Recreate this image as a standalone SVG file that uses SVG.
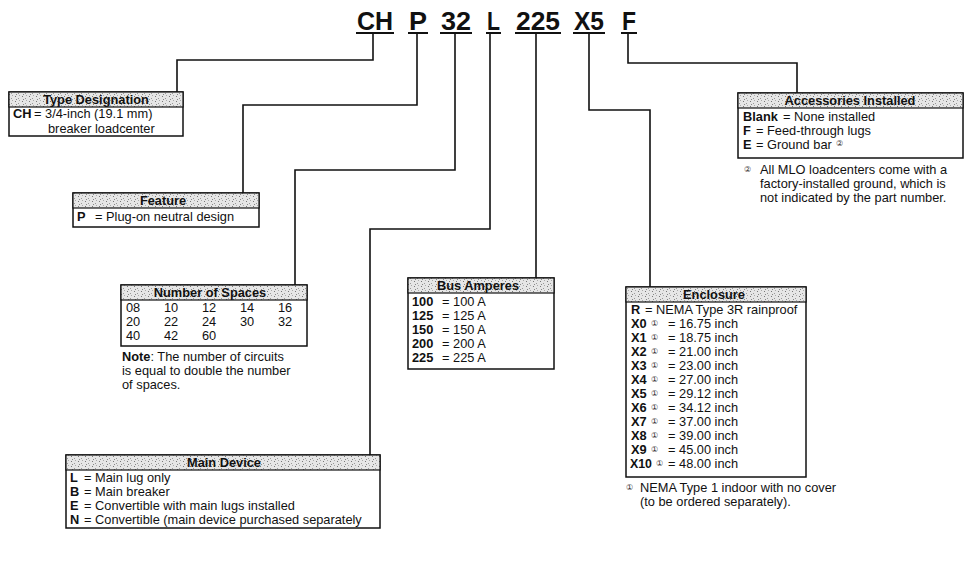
<svg xmlns="http://www.w3.org/2000/svg" width="969" height="564" viewBox="0 0 969 564">
<defs>
<pattern id="stip" width="7" height="5" patternUnits="userSpaceOnUse">
<rect width="7" height="5" fill="#e6e6e6"/>
<rect x="1" y="1" width="1" height="1" fill="#777"/>
<rect x="4" y="3" width="1" height="1" fill="#999"/>
<rect x="5" y="0" width="1" height="1" fill="#aaa"/>
<rect x="2" y="4" width="1" height="1" fill="#888"/>
</pattern>
<style>
.t{font-family:"Liberation Sans","Arial",sans-serif;font-size:12.8px;fill:#111}
.b{font-weight:bold}
.h{font-weight:bold;text-anchor:middle}
.ttl{font-family:"Liberation Sans","Arial",sans-serif;font-weight:bold;font-size:25px;fill:#111}
.box{fill:#fff;stroke:#111;stroke-width:1.5}
.hdr{fill:url(#stip);stroke:#111;stroke-width:1.2}
.ln{fill:none;stroke:#111;stroke-width:1.6}
.ul{stroke:#111;stroke-width:2}
.c{font-family:"DejaVu Sans",sans-serif;font-size:8px;fill:#333}
</style>
</defs>
<rect width="969" height="564" fill="#fff"/>

<g id="title">
<text class="ttl" x="357" y="30" textLength="36" lengthAdjust="spacingAndGlyphs">CH</text>
<text class="ttl" x="409" y="30" textLength="18" lengthAdjust="spacingAndGlyphs">P</text>
<text class="ttl" x="441" y="30" textLength="30" lengthAdjust="spacingAndGlyphs">32</text>
<text class="ttl" x="487" y="30" textLength="13" lengthAdjust="spacingAndGlyphs">L</text>
<text class="ttl" x="516" y="30" textLength="44" lengthAdjust="spacingAndGlyphs">225</text>
<text class="ttl" x="574" y="30" textLength="30" lengthAdjust="spacingAndGlyphs">X5</text>
<text class="ttl" x="622" y="30" textLength="14" lengthAdjust="spacingAndGlyphs">F</text>
<line class="ul" x1="356" y1="33" x2="394" y2="33"/>
<line class="ul" x1="408" y1="33" x2="428" y2="33"/>
<line class="ul" x1="440" y1="33" x2="472" y2="33"/>
<line class="ul" x1="486" y1="33" x2="501" y2="33"/>
<line class="ul" x1="515" y1="33" x2="561" y2="33"/>
<line class="ul" x1="573" y1="33" x2="605" y2="33"/>
<line class="ul" x1="621" y1="33" x2="637" y2="33"/>
</g>

<g id="connectors">
<path class="ln" d="M373,34 V60 H177 V92"/>
<path class="ln" d="M417,34 V105 H243 V193"/>
<path class="ln" d="M455,34 V170 H295 V285"/>
<path class="ln" d="M490,34 V229 H370 V455"/>
<path class="ln" d="M536,34 V278"/>
<path class="ln" d="M589,34 V110 H650 V287"/>
<path class="ln" d="M628,34 V63 H797 V93"/>
</g>

<g id="type-designation">
<rect class="box" x="9" y="92" width="174" height="44"/>
<rect class="hdr" x="9" y="92" width="174" height="15"/>
<text class="t h" x="96" y="104">Type Designation</text>
<text class="t b" x="13" y="118">CH</text>
<text class="t" x="34" y="118">= 3/4-inch (19.1 mm)</text>
<text class="t" x="48" y="133">breaker loadcenter</text>
</g>

<g id="feature">
<rect class="box" x="73" y="193" width="186" height="34"/>
<rect class="hdr" x="73" y="193" width="186" height="15"/>
<text class="t h" x="163" y="205">Feature</text>
<text class="t b" x="77" y="221">P</text>
<text class="t" x="95" y="221">= Plug-on neutral design</text>
</g>

<g id="number-of-spaces">
<rect class="box" x="121" y="285" width="186" height="61"/>
<rect class="hdr" x="121" y="285" width="186" height="15"/>
<text class="t h" x="210" y="297">Number of Spaces</text>
<text class="t" y="312"><tspan x="126">08</tspan><tspan x="164">10</tspan><tspan x="202">12</tspan><tspan x="240">14</tspan><tspan x="278">16</tspan></text>
<text class="t" y="326"><tspan x="126">20</tspan><tspan x="164">22</tspan><tspan x="202">24</tspan><tspan x="240">30</tspan><tspan x="278">32</tspan></text>
<text class="t" y="340"><tspan x="126">40</tspan><tspan x="164">42</tspan><tspan x="202">60</tspan></text>
<text class="t" x="122" y="361"><tspan class="b">Note</tspan>: The number of circuits</text>
<text class="t" x="122" y="375">is equal to double the number</text>
<text class="t" x="122" y="389">of spaces.</text>
</g>

<g id="bus-amperes">
<rect class="box" x="408" y="278" width="146" height="91"/>
<rect class="hdr" x="408" y="278" width="146" height="15"/>
<text class="t h" x="478" y="290">Bus Amperes</text>
<text class="t b" x="412" y="306">100</text><text class="t" x="442" y="306">= 100 A</text>
<text class="t b" x="412" y="320">125</text><text class="t" x="442" y="320">= 125 A</text>
<text class="t b" x="412" y="334">150</text><text class="t" x="442" y="334">= 150 A</text>
<text class="t b" x="412" y="348">200</text><text class="t" x="442" y="348">= 200 A</text>
<text class="t b" x="412" y="362">225</text><text class="t" x="442" y="362">= 225 A</text>
</g>

<g id="main-device">
<rect class="box" x="66" y="455" width="314" height="73"/>
<rect class="hdr" x="66" y="455" width="314" height="15"/>
<text class="t h" x="224" y="467">Main Device</text>
<text class="t b" x="70" y="482">L</text><text class="t" x="84" y="482">= Main lug only</text>
<text class="t b" x="70" y="496">B</text><text class="t" x="84" y="496">= Main breaker</text>
<text class="t b" x="70" y="510">E</text><text class="t" x="84" y="510">= Convertible with main lugs installed</text>
<text class="t b" x="70" y="524">N</text><text class="t" x="84" y="524">= Convertible (main device purchased separately</text>
</g>

<g id="enclosure">
<rect class="box" x="626" y="287" width="180" height="190"/>
<rect class="hdr" x="626" y="287" width="180" height="15"/>
<text class="t h" x="714" y="299">Enclosure</text>
<text class="t b" x="631" y="314">R</text><text class="t" x="645" y="314">= NEMA Type 3R rainproof</text>
<g class="t">
<text class="b" x="631" y="328">X0</text><text class="c" x="651" y="326">①</text><text x="668" y="328">= 16.75 inch</text>
<text class="b" x="631" y="342">X1</text><text class="c" x="651" y="340">①</text><text x="668" y="342">= 18.75 inch</text>
<text class="b" x="631" y="356">X2</text><text class="c" x="651" y="354">①</text><text x="668" y="356">= 21.00 inch</text>
<text class="b" x="631" y="370">X3</text><text class="c" x="651" y="368">①</text><text x="668" y="370">= 23.00 inch</text>
<text class="b" x="631" y="384">X4</text><text class="c" x="651" y="382">①</text><text x="668" y="384">= 27.00 inch</text>
<text class="b" x="631" y="398">X5</text><text class="c" x="651" y="396">①</text><text x="668" y="398">= 29.12 inch</text>
<text class="b" x="631" y="412">X6</text><text class="c" x="651" y="410">①</text><text x="668" y="412">= 34.12 inch</text>
<text class="b" x="631" y="426">X7</text><text class="c" x="651" y="424">①</text><text x="668" y="426">= 37.00 inch</text>
<text class="b" x="631" y="440">X8</text><text class="c" x="651" y="438">①</text><text x="668" y="440">= 39.00 inch</text>
<text class="b" x="631" y="454">X9</text><text class="c" x="651" y="452">①</text><text x="668" y="454">= 45.00 inch</text>
<text class="b" x="630" y="468" textLength="22" lengthAdjust="spacingAndGlyphs">X10</text><text class="c" x="656" y="466" font-size="7">①</text><text x="668" y="468">= 48.00 inch</text>
</g>
<text class="c" x="626" y="490">①</text>
<text class="t" x="640" y="492">NEMA Type 1 indoor with no cover</text>
<text class="t" x="640" y="506">(to be ordered separately).</text>
</g>

<g id="accessories-installed">
<rect class="box" x="738" y="93" width="225" height="65"/>
<rect class="hdr" x="738" y="93" width="225" height="15"/>
<text class="t h" x="850" y="105">Accessories Installed</text>
<text class="t b" x="743" y="121">Blank</text><text class="t" x="783" y="121">= None installed</text>
<text class="t b" x="743" y="135">F</text><text class="t" x="756" y="135">= Feed-through lugs</text>
<text class="t b" x="743" y="149">E</text><text class="t" x="756" y="149">= Ground bar</text><text class="c" x="836" y="146">②</text>
<text class="c" x="744" y="172">②</text>
<text class="t" x="760" y="174">All MLO loadcenters come with a</text>
<text class="t" x="760" y="188">factory-installed ground, which is</text>
<text class="t" x="760" y="202">not indicated by the part number.</text>
</g>
</svg>
